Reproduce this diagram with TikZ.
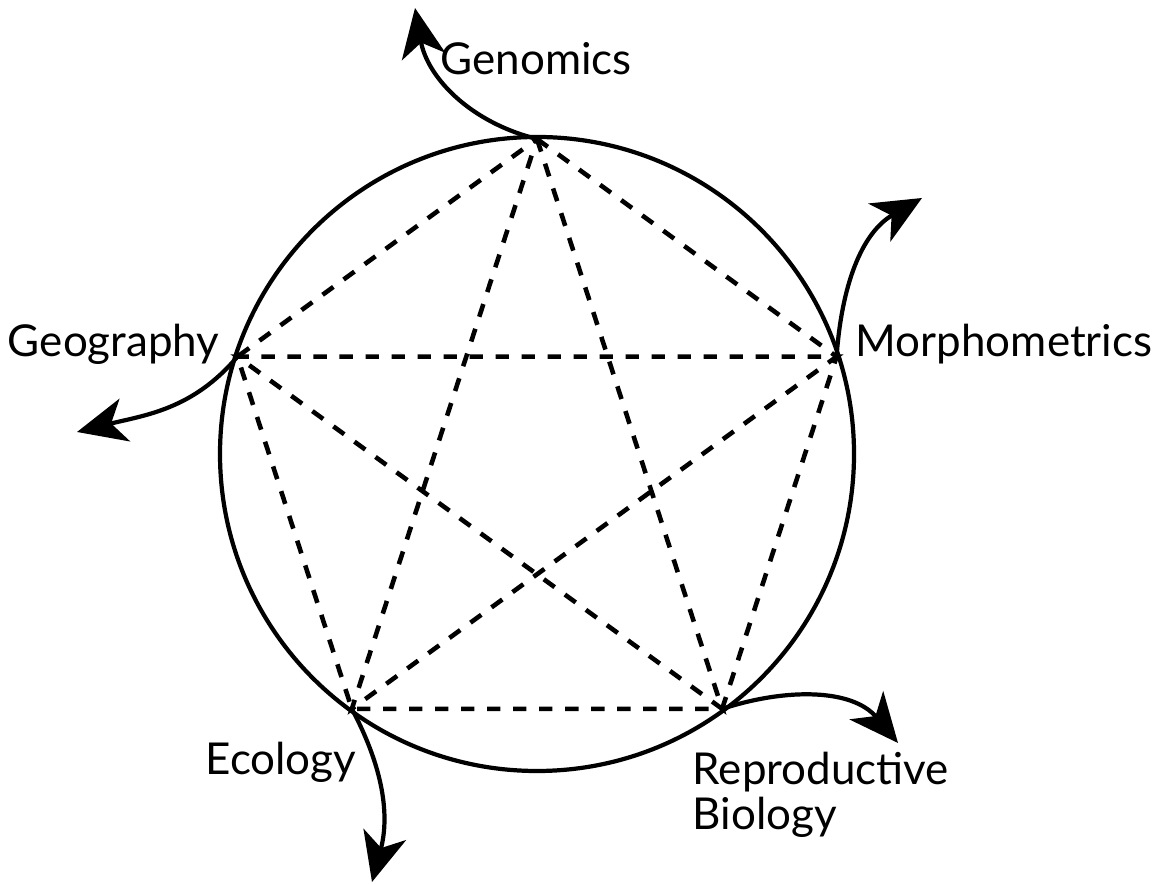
\documentclass[tikz,border=0pt]{standalone}
\usepackage{fontspec}
\setmainfont{Lato}
\usetikzlibrary{arrows.meta}
\begin{document}
\begin{tikzpicture}[>={Stealth[length=14pt,width=12.5pt,inset=4pt]},
  every node/.style={inner sep=0pt, font=\fontsize{12.5}{13}\selectfont},
  chord/.style={line width=1.3pt, dash pattern=on 3.8pt off 3.6pt},
  flow/.style={->, line width=1.2pt}]
\useasboundingbox (0,0) rectangle (11.70,8.84);
\coordinate (O) at (5.37,4.30);
\draw[line width=1.2pt](O) circle (3.17);
\foreach \name/\ang in {gen/90, mor/18, rep/-54, eco/234, geo/162}
  \coordinate (\name) at ([shift={(\ang:3.15)}]O);

% pentagon and star
\draw[chord](gen)--(mor)--(rep)--(eco)--(geo)--cycle;
\draw[chord](gen)--(rep)--(geo)--(mor)--(eco)--cycle;

% arrow tips
\coordinate (gentip) at (4.15,8.76);
\coordinate (mortip) at (9.22,6.86);
\coordinate (geotip) at (0.77,4.52);
\coordinate (ecotip) at (3.72,0.02);
\coordinate (reptip) at (8.98,1.41);

\draw[flow](gen) to[out=166,in=-80] (gentip);
\draw[flow](mor) to[out=86,in=210] (mortip);
\draw[flow](geo) to[out=230,in=14] (geotip);
\draw[flow](eco) to[out=-62,in=75] (ecotip);
\draw[flow](rep) to[out=18,in=130] (reptip);

\node (genlab) at (4.40,8.09)[anchor=base west]{Genomics};
\node (morlab) at (8.55,5.27)[anchor=base west]{Morphometrics};
\node (geolab) at (2.20,5.27)[anchor=base east]{Geography};
\node (ecolab) at (2.05,1.09)[anchor=base west]{Ecology};
\node (replab) at (6.92,1.33)[anchor=north west, align=left]{Reproductive\\Biology};
\end{tikzpicture}
\end{document}
